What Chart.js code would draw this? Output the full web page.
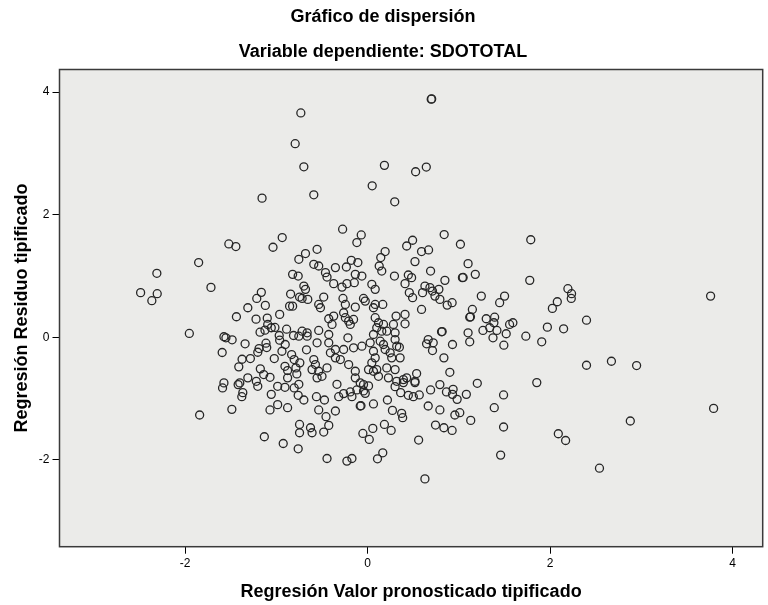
<!DOCTYPE html>
<html><head><meta charset="utf-8">
<script src="https://cdn.jsdelivr.net/npm/chart.js@4.4.1/dist/chart.umd.min.js"></script>
<style>html,body{margin:0;padding:0;background:#fff}#c{display:block}</style>
</head><body>
<canvas id="c" width="768" height="605"></canvas>
<script>
// Regresión Valor pronosticado tipificado (x) / Regresión Residuo tipificado (y)
const predictedValues = [
-0.731,-0.793,-0.698,-1.156,0.698,0.703,0.185,0.527,0.644,0.051,-0.589,0.298,-0.273,-0.069,-0.117,0.840,1.018,1.789,
-1.520,-1.443,-0.935,-1.036,-0.753,-1.851,-2.309,-2.487,-2.305,-2.364,-1.716,-0.821,-0.760,-1.164,-1.214,-0.843,-1.312,-1.120,-0.854,-0.821,-0.745,
-1.437,-1.222,-1.099,-0.963,-1.094,-1.178,-1.124,-1.055,-1.015,-0.887,-0.811,-0.968,-1.953,-1.574,-1.552,-1.484,-1.342,-1.113,-0.963,-0.902,
-1.593,-1.189,-1.203,-1.105,-0.938,-1.375,-1.284,-1.022,-0.832,-0.804,-1.411,-1.175,-0.905,-0.876,-0.785,-1.138,-1.069,-1.312,-1.219,-0.876,-0.775,
-1.574,-1.400,-1.418,-1.203,-0.985,-1.589,-0.804,-1.367,-1.378,-1.055,-0.905,-0.760,-1.840,-1.487,-1.069,-0.985,-0.876,-0.745,-0.745,-1.131,-0.924,-0.760,
-0.753,-0.335,0.011,0.302,0.393,0.520,1.203,-0.698,-0.560,-0.472,-0.316,-0.262,-0.189,-0.171,-0.117,-0.044,-0.025,-0.080,-0.072,0.065,0.218,0.363,0.447,0.502,0.567,0.691,0.865,0.938,0.931,0.982,1.083,1.491,
-0.535,-0.352,-0.455,-0.425,-0.625,-0.608,-0.480,-0.444,-0.226,-0.171,0.109,0.167,-0.051,0.058,0.019,0.185,0.259,0.273,0.374,0.385,0.665,0.793,0.957,1.011,1.131,0.745,0.837,0.927,0.560,0.629,1.389,1.491,1.459,
1.855,3.793,2.880,2.091,2.171,2.542,
1.778,2.196,2.236,2.233,2.080,2.026,3.760,2.400,1.971,2.149,1.735,1.909,2.400,2.673,2.949,
-0.553,-0.680,-0.589,-0.535,-0.352,-0.232,-0.178,-0.106,0.193,0.145,0.128,0.156,0.429,0.494,0.592,0.669,0.520,1.102,1.181,1.040,1.048,0.848,0.691,0.295,0.447,0.483,0.411,
-0.461,-0.444,-0.371,-0.280,-0.226,-0.134,-0.062,-0.145,0.047,0.084,-0.698,-0.680,-0.717,-0.655,-0.480,-0.535,-0.516,-0.269,-0.243,-0.044,-0.025,-0.134,0.084,0.065,0.167,
0.458,0.494,0.603,0.629,0.684,0.712,0.782,0.739,0.793,0.873,0.927,0.592,1.247,1.448,1.502,1.149,1.120,1.128,1.301,1.393,1.385,1.339,1.418,1.265,1.375,1.557,1.593,1.520,1.494,
1.102,1.120,0.931,0.811,0.818,0.665,0.720,0.647,0.712,0.837,0.902,0.538,0.429,0.520,0.393,
-0.742,-0.717,-0.662,-0.662,-0.753,-0.669,-0.553,-0.535,-0.425,-0.389,-0.425,-0.371,-0.262,-0.243,-0.207,-0.189,-0.153,-0.215,-0.425,-0.352,-0.262,-0.153,-0.062,-0.407,-0.352,-0.298,
-0.589,-0.571,-0.608,-0.535,-0.444,-0.499,-0.553,-0.134,-0.134,-0.080,-0.044,0.011,0.084,0.047,0.101,0.065,0.029,0.065,0.101,0.120,0.084,0.175,0.156,0.139,0.175,0.211,0.193,
0.284,0.302,0.302,0.320,0.349,0.313,0.411,0.411,0.248,0.265,0.357,0.211,0.302,0.120,0.065,0.229,0.320,-0.207,0.793
];
const residualValues = [
3.661,3.159,2.782,2.270,3.885,3.890,2.805,2.701,2.777,2.471,2.324,2.210,1.763,1.669,1.545,1.676,1.517,1.591,
1.522,1.480,1.627,1.468,1.272,1.218,1.043,0.727,0.710,0.596,0.813,1.026,0.998,0.732,0.633,0.704,0.481,0.519,0.507,0.507,0.655,
0.334,0.295,0.311,0.372,0.208,0.082,0.115,0.154,0.159,0.131,0.028,0.028,0.061,0.007,-0.010,-0.043,-0.108,-0.098,-0.049,-0.119,
-0.250,-0.185,-0.246,-0.169,-0.229,-0.360,-0.349,-0.349,-0.283,-0.365,-0.484,-0.517,-0.475,-0.545,-0.501,-0.610,-0.655,-0.664,-0.720,-0.664,-0.599,
-0.746,-0.746,-0.774,-0.802,-0.802,-0.828,-0.828,-0.905,-0.971,-0.933,-0.818,-0.949,-1.270,-1.178,-1.188,-1.101,-1.151,-1.424,-1.560,-1.625,-1.735,-1.822,
-0.769,-0.769,-0.795,-0.807,-0.741,-0.741,-0.753,-1.025,-0.971,-1.025,-0.971,-0.921,-0.894,-0.971,-0.861,-0.877,-0.917,-1.123,-1.118,-1.090,-1.025,-0.905,-0.949,-0.971,-0.943,-0.861,-0.894,-0.851,-0.933,-1.015,-0.933,-0.943,
-1.188,-1.205,-1.298,-1.440,-1.478,-1.560,-1.548,-1.980,-2.023,-1.980,-1.985,-1.887,-1.571,-1.489,-1.669,-1.424,-1.522,-1.195,-1.244,-1.314,-1.123,-1.188,-1.270,-1.232,-1.358,-1.434,-1.478,-1.522,-1.679,-2.313,-1.151,-1.466,-1.925,
-0.741,-1.162,-1.368,-1.576,-1.686,-2.138,
0.928,0.792,0.710,0.633,0.579,0.470,0.671,0.278,0.164,0.137,0.016,-0.075,-0.458,-0.393,-0.463,
1.435,1.365,1.190,1.162,1.136,1.146,1.255,1.218,1.398,1.300,1.162,1.080,1.489,1.583,1.398,1.424,1.234,1.201,1.026,0.972,0.975,0.928,1.080,0.998,1.015,0.972,0.874,
1.054,0.982,0.874,0.818,0.874,1.026,0.998,0.890,0.863,0.781,0.835,0.781,0.633,0.617,0.655,0.535,0.481,0.633,0.535,0.633,0.589,0.491,0.535,0.481,0.535,
0.727,0.645,0.727,0.835,0.809,0.753,0.781,0.671,0.617,0.524,0.563,0.453,0.671,0.563,0.671,0.453,0.327,0.332,0.301,0.327,0.236,0.154,0.110,0.110,-0.010,0.208,0.236,0.056,-0.131,
0.072,-0.075,-0.119,0.088,0.092,-0.038,-0.092,-0.108,-0.218,-0.337,-0.573,-0.594,-0.664,-0.720,-0.692,
-0.419,0.098,0.072,0.016,0.016,-0.206,-0.092,0.110,0.044,0.208,0.301,0.344,0.399,0.318,0.262,0.208,0.290,-0.010,-0.092,-0.201,-0.201,-0.173,-0.147,-0.255,-0.337,-0.365,
-0.365,-0.447,-0.529,-0.556,-0.501,-0.638,-0.664,-0.556,-0.664,-0.746,-0.774,-0.529,-0.337,-0.419,-0.529,-0.229,-0.092,0.044,0.154,0.236,0.318,0.208,0.098,-0.065,-0.119,0.098,-0.201,
0.208,0.072,-0.038,-0.147,-0.164,0.344,0.372,0.219,-0.255,-0.337,-0.337,-0.501,-0.529,-0.638,-0.556,-0.664,-0.720,-0.447,-0.774
];
const xTickValues = [-2, 0, 2, 4];
const yTickValues = [-2, 0, 2, 4];
const xRange = [-3.376, 4.331];
const yRange = [-3.42, 4.37];

Chart.defaults.font.family = '"Liberation Sans", Arial, sans-serif';
Chart.defaults.color = '#000';

const points = predictedValues.map((x, i) => ({ x: x, y: residualValues[i] }));

const framePlugin = {
  id: 'frame',
  beforeDraw(chart) {
    const { ctx, chartArea: a } = chart;
    ctx.save();
    ctx.fillStyle = '#EBEBE9';
    ctx.fillRect(a.left, a.top, a.right - a.left, a.bottom - a.top);
    ctx.restore();
  },
  afterDraw(chart) {
    const { ctx, chartArea: a } = chart;
    ctx.save();
    ctx.strokeStyle = '#3a3a3a';
    ctx.lineWidth = 1.5;
    ctx.strokeRect(a.left, a.top, a.right - a.left, a.bottom - a.top);
    ctx.restore();
  }
};

new Chart(document.getElementById('c'), {
  type: 'scatter',
  data: {
    datasets: [{
      data: points,
      pointStyle: 'circle',
      pointRadius: 4,
      pointHoverRadius: 4,
      borderWidth: 1.3,
      borderColor: '#262626',
      backgroundColor: 'rgba(0,0,0,0)'
    }]
  },
  options: {
    responsive: false,
    animation: false,
    devicePixelRatio: 1,
    layout: { padding: { left: 0, right: 2, top: 0, bottom: 0 } },
    plugins: {
      legend: { display: false },
      tooltip: { enabled: false },
      title: {
        display: true, text: 'Gráfico de dispersión', color: '#000',
        font: { size: 18, weight: 'bold' }, padding: { top: 6, bottom: 14 }
      },
      subtitle: {
        display: true, text: 'Variable dependiente: SDOTOTAL', color: '#000',
        font: { size: 18, weight: 'bold' }, padding: { top: 0, bottom: 6.3 }
      }
    },
    scales: {
      x: {
        type: 'linear', min: xRange[0], max: xRange[1],
        afterBuildTicks: s => { s.ticks = xTickValues.map(v => ({ value: v })); },
        afterFit: s => { s.height = 58.3; },
        ticks: { font: { size: 12 }, color: '#000', padding: 3, maxRotation: 0 },
        grid: { drawOnChartArea: false, drawTicks: true, tickLength: 7, color: '#000', lineWidth: 1 },
        border: { display: false },
        title: { display: true, text: 'Regresión Valor pronosticado tipificado', color: '#000',
          font: { size: 18, weight: 'bold' }, padding: { top: 0, bottom: 2 } }
      },
      y: {
        type: 'linear', min: yRange[0], max: yRange[1],
        afterBuildTicks: s => { s.ticks = yTickValues.map(v => ({ value: v })); },
        afterFit: s => { s.width = 59.5; },
        ticks: { font: { size: 12 }, color: '#000', padding: 3 },
        grid: { drawOnChartArea: false, drawTicks: true, tickLength: 7, color: '#000', lineWidth: 1 },
        border: { display: false },
        title: { display: true, text: 'Regresión Residuo tipificado', color: '#000',
          font: { size: 18, weight: 'bold' }, padding: { top: 11, bottom: 0 } }
      }
    }
  },
  plugins: [framePlugin]
});
</script>
</body></html>
